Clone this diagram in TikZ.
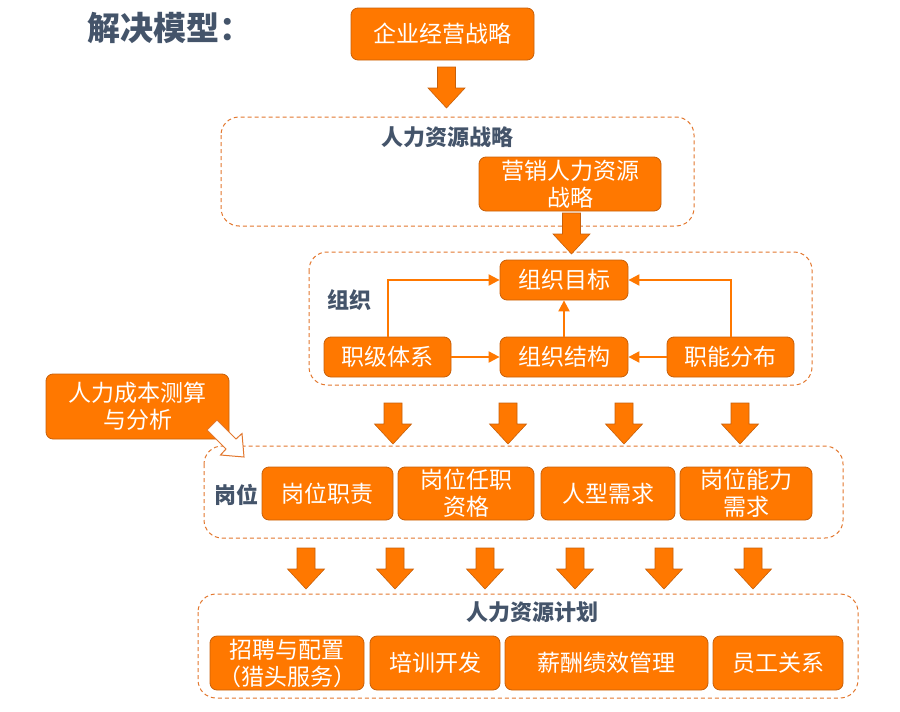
\documentclass[tikz,border=0pt]{standalone}
\usepackage{fontspec}
\newfontfamily\cjk{Noto Sans CJK SC}
\usetikzlibrary{arrows.meta}

\definecolor{orfill}{HTML}{FF7800}
\definecolor{ordraw}{HTML}{C8600A}
\definecolor{ordash}{HTML}{E2772E}
\definecolor{slate}{HTML}{44546A}

\tikzset{
  obox/.style={draw=ordraw, fill=orfill, rounded corners=7pt, text=white,
    font=\cjk\fontsize{23}{27}\selectfont, align=center, inner sep=0pt, line width=0.8pt},
  frame/.style={draw=ordash, dash pattern=on 4pt off 3pt, rounded corners=18pt, line width=1pt},
  tag/.style={text=slate, font=\cjk\bfseries\fontsize{22}{26}\selectfont},
  link/.style={draw=orfill, line width=2pt, -{Triangle[length=11pt,width=11pt]}},
  arrowfill/.style={fill=orfill, draw=ordraw, line width=0.6pt},
  downarr/.pic={\path[arrowfill] (-9,0) -- (9,0) -- (9,21) -- (18.5,21) -- (0,41)
    -- (-18.5,21) -- (-9,21) -- cycle;}
}

\begin{document}
\begin{tikzpicture}[x=1pt,y=-1pt]
\useasboundingbox (0,0) rectangle (900,712);

% title
\node[anchor=west, text=slate, font=\cjk\bfseries\fontsize{33}{37}\selectfont] (title) at (84,28) {解决模型：};

% dashed frames
\draw[frame] (221,117) rectangle (694,226);
\draw[frame] (309,252) rectangle (812,385);
\draw[frame] (204,446) rectangle (843,538);
\draw[frame] (198,594) rectangle (858,698);

% frame labels
\node[tag] (lhrs) at (447,137) {人力资源战略};
\node[tag] (lorg) at (349,300) {组织};
\node[tag] (lpost) at (236,495) {岗位};
\node[tag] (lplan) at (532,612) {人力资源计划};

% top
\node[obox, minimum width=183pt, minimum height=52pt] (strat) at (442.5,34) {企业经营战略};
\node[obox, minimum width=182pt, minimum height=54pt] (mkt) at (570,184) {营销人力资源\\战略};

% organisation
\node[obox, minimum width=128pt, minimum height=40pt] (goal) at (564,280) {组织目标};
\node[obox, minimum width=127pt, minimum height=40pt] (rank) at (387.5,357) {职级体系};
\node[obox, minimum width=128pt, minimum height=40pt] (struct) at (564,357) {组织结构};
\node[obox, minimum width=127pt, minimum height=40pt] (func) at (730.5,357) {职能分布};

\draw[link] (rank.north) |- (goal.west);
\draw[link] (func.north) |- (goal.east);
\draw[link] (rank) -- (struct);
\draw[link] (func) -- (struct);
\draw[link] (struct) -- (goal);

% posts
\node[obox, minimum width=131pt, minimum height=53pt] (duty) at (327.5,493.5) {岗位职责};
\node[obox, minimum width=136pt, minimum height=53pt] (qual) at (466,493.5) {岗位任职\\资格};
\node[obox, minimum width=134pt, minimum height=53pt] (need) at (608,493.5) {人型需求};
\node[obox, minimum width=132pt, minimum height=53pt] (abil) at (746,493.5) {岗位能力\\需求};

% plan
\node[obox, minimum width=154pt, minimum height=54pt] (recr) at (287,663) {招聘与配置\\（猎头服务）};
\node[obox, minimum width=130pt, minimum height=54pt] (train) at (435,663) {培训开发};
\node[obox, minimum width=203pt, minimum height=54pt] (pay) at (606.5,663) {薪酬绩效管理};
\node[obox, minimum width=130pt, minimum height=54pt] (rel) at (778,663) {员工关系};

% block arrows
\pic at (446.5,67) {downarr};
\pic at (571.5,213) {downarr};
\foreach \xa in {393,508,624,740}
  \pic at (\xa,403) {downarr};
\foreach \xb in {306,395,485,575,664,753}
  \pic at (\xb,548) {downarr};

% cost analysis
\node[obox, minimum width=183pt, minimum height=65pt] (cost) at (137.5,406.5) {人力成本测算\\与分析};
\draw[fill=white, draw=ordash, line width=1pt] (217,420) -- (236,439) -- (242,433.5)
  -- (244,457) -- (220.5,455) -- (226,449) -- (207,430) -- cycle;
\end{tikzpicture}
\end{document}
